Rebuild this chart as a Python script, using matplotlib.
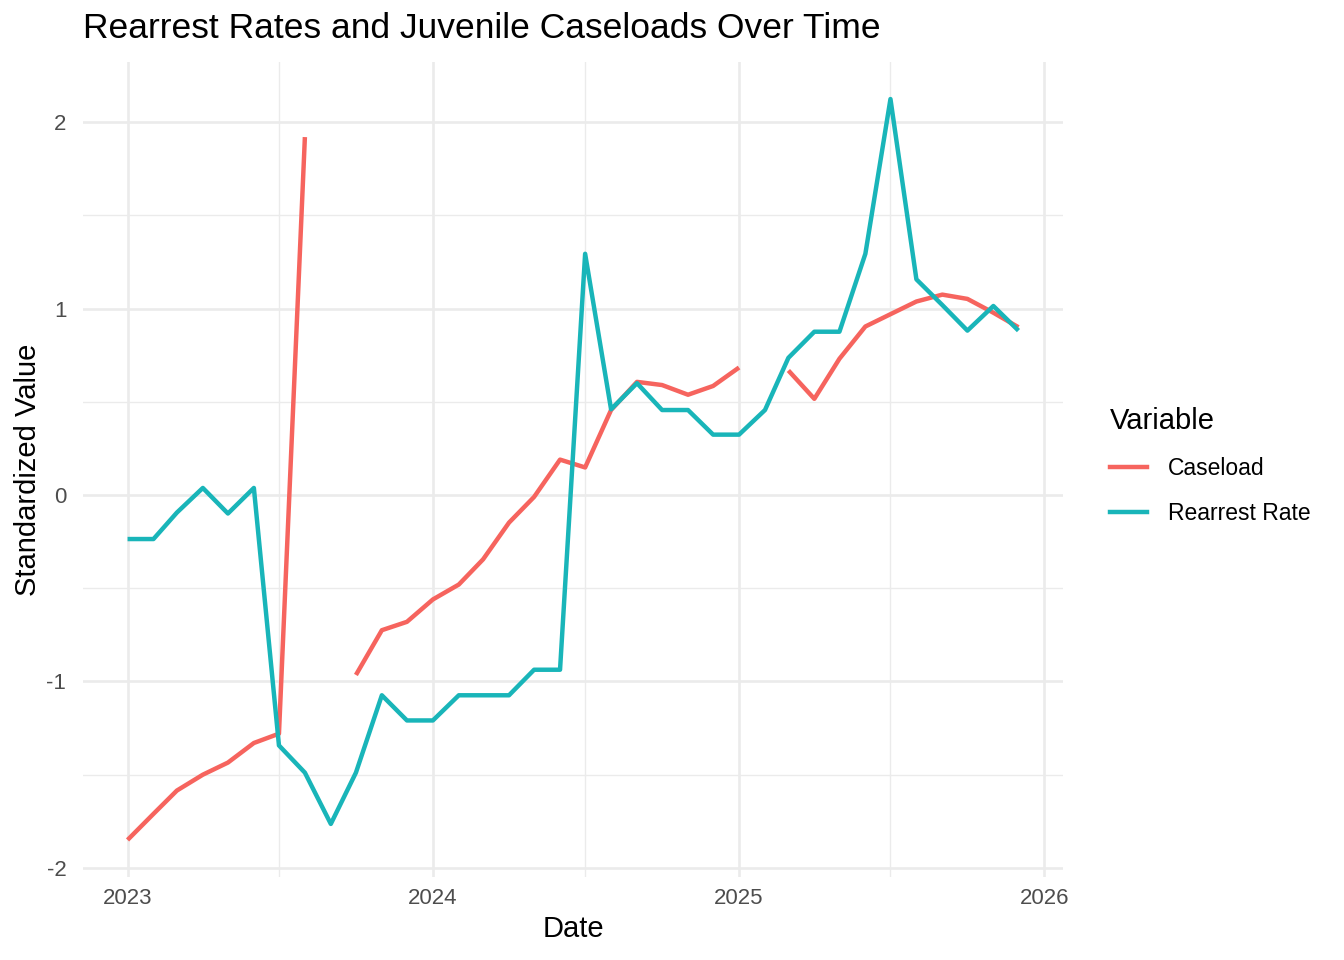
import numpy as np
import pandas as pd
import datetime as dt
import matplotlib
matplotlib.use("Agg")
import matplotlib.pyplot as plt
import matplotlib.dates as mdates
from matplotlib.lines import Line2D

plt.rcParams['font.family'] = ['Liberation Sans', 'DejaVu Sans']

dates = pd.date_range("2023-01-01", "2025-12-01", freq="MS")

caseload = [-1.85, -1.71, -1.585, -1.50, -1.435, -1.33, -1.28, 1.92, np.nan, -0.965, -0.725, -0.68,
            -0.56, -0.48, -0.345, -0.148, -0.01, 0.19, 0.148, 0.456, 0.607, 0.59, 0.538, 0.585,
            0.684, np.nan, 0.668, 0.516, 0.731, 0.904, 0.97, 1.038, 1.075, 1.052, 0.978, 0.900]

rearrest = [-0.236, -0.236, -0.094, 0.038, -0.099, 0.038, -1.343, -1.489, -1.764, -1.489, -1.074, -1.209,
            -1.209, -1.074, -1.074, -1.074, -0.937, -0.937, 1.294, 0.46, 0.60, 0.456, 0.456, 0.324,
            0.324, 0.456, 0.736, 0.876, 0.876, 1.294, 2.124, 1.157, 1.019, 0.882, 1.014, 0.882]

series_names = ["Caseload", "Rearrest Rate"]
series_colors = ["#F6645E", "#19B5B9"]
y_ticks = [-2, -1, 0, 1, 2]
y_tick_labels = ["-2", "-1", "0", "1", "2"]
x_ticks_years = [2023, 2024, 2025, 2026]

fig = plt.figure(figsize=(13.44, 9.6), dpi=100)
ax = fig.add_axes([83/1344, 1-877/960, (1063-83)/1344, (877-62)/960])

xd = mdates.date2num(dates.to_pydatetime())
LW = 3.2
ax.plot(xd, caseload, color=series_colors[0], lw=LW, solid_capstyle='butt', zorder=3)
ax.plot(xd, rearrest, color=series_colors[1], lw=LW, solid_capstyle='butt', zorder=3)

x0, x1 = xd[0], xd[-1]
span = x1 - x0
ax.set_xlim(x0 - 0.05*span, x1 + 0.05*span)
allv = np.array([v for v in caseload + rearrest if not np.isnan(v)])
ymin, ymax = allv.min(), allv.max()
ys = ymax - ymin
ax.set_ylim(ymin - 0.05*ys, ymax + 0.05*ys)

major_x = [mdates.date2num(dt.datetime(y, 1, 1)) for y in x_ticks_years]
minor_x = [mdates.date2num(dt.datetime(y, 7, 1)) for y in x_ticks_years[:-1]]
ax.set_xticks(major_x)
ax.set_xticklabels([str(y) for y in x_ticks_years])
ax.set_xticks(minor_x, minor=True)
ax.set_yticks(y_ticks)
ax.set_yticklabels(y_tick_labels)
ax.set_yticks([-1.5, -0.5, 0.5, 1.5], minor=True)

ax.grid(which='major', color='#EBEBEB', lw=1.9)
ax.grid(which='minor', color='#EBEBEB', lw=1.0)
ax.set_axisbelow(True)
for s in ax.spines.values():
    s.set_visible(False)
ax.tick_params(which='both', length=0)
ax.tick_params(axis='both', labelsize=16, colors='#4D4D4D')
ax.tick_params(axis='y', pad=12)
ax.tick_params(axis='x', pad=8)

ax.set_xlabel("Date", fontsize=21, color='black', labelpad=4)
ax.set_ylabel("Standardized Value", fontsize=21, color='black', labelpad=3)
fig.text(83/1344, 1-28/960, "Rearrest Rates and Juvenile Caseloads Over Time",
         fontsize=25.5, ha='left', va='center')

handles = [Line2D([], [], color=c, lw=LW) for c in series_colors]
leg = fig.legend(handles, series_names, title="Variable", loc='upper left',
                 bbox_to_anchor=(1092/1344, 1-389/960), frameon=False,
                 fontsize=16.5, title_fontsize=21, handlelength=1.6,
                 handletextpad=0.9, labelspacing=0.95, borderpad=0.3)
leg._legend_box.align = "left"

fig.savefig("out.png", dpi=100)
